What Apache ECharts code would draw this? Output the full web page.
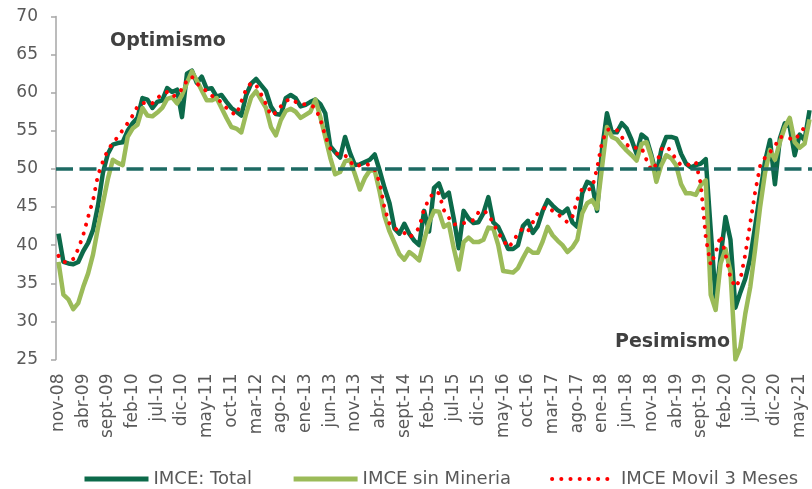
<!DOCTYPE html>
<html>
<head>
<meta charset="utf-8">
<title>IMCE</title>
<script src="https://cdn.jsdelivr.net/npm/echarts@6/dist/echarts.min.js"></script>
<style>
  html, body { margin: 0; padding: 0; background: #ffffff; }
  #chart { width: 812px; height: 489px; }
</style>
</head>
<body>
<div id="chart"></div>
<script>
// Monthly categories, Nov 2008 to Jul 2021
const monthNames = ['ene', 'feb', 'mar', 'abr', 'may', 'jun', 'jul', 'ago', 'sept', 'oct', 'nov', 'dic'];
const startYear = 2008;
const startMonth = 10; // nov
const monthCount = 153;

const categories = [];
for (let k = 0; k < monthCount; k++) {
  const m = (startMonth + k) % 12;
  const y = startYear + Math.floor((startMonth + k) / 12);
  categories.push(monthNames[m] + '-' + String(y % 100).padStart(2, '0'));
}

const yTicks = [25, 30, 35, 40, 45, 50, 55, 60, 65, 70];
const neutralLevel = 50;

// IMCE: Total
const imceTotal = [
  41.5, 37.8, 37.6, 37.5, 37.8, 39.2, 40.3, 42.0, 45.2, 49.5,
  52.0, 53.2, 53.4, 53.5, 55.0, 56.0, 56.7, 59.3, 59.1, 58.0,
  58.8, 59.0, 60.6, 60.1, 60.4, 56.8, 62.5, 62.9, 61.3, 62.1,
  60.5, 60.6, 59.5, 59.7, 58.8, 58.0, 57.5, 57.0, 59.7, 61.2,
  61.8, 61.0, 60.2, 58.2, 57.2, 57.1, 59.3, 59.7, 59.3, 58.2,
  58.4, 58.8, 59.1, 58.5, 57.3, 53.0, 52.2, 51.5, 54.2, 52.1,
  50.5, 50.6, 50.9, 51.2, 51.9, 49.8, 47.5, 45.5, 42.2, 41.5,
  42.8, 41.5, 40.6, 40.0, 44.5, 41.8, 47.5, 48.1, 46.3, 46.9,
  43.5, 39.6, 44.5, 43.5, 42.9, 43.0, 44.2, 46.3, 43.0, 42.4,
  41.0, 39.5, 39.5, 40.0, 42.5, 43.2, 41.6, 42.5, 44.5, 45.9,
  45.2, 44.6, 44.2, 44.8, 43.0, 42.4, 46.8, 48.3, 48.0, 44.5,
  52.5, 57.3, 54.8, 54.8, 56.0, 55.3, 53.8, 52.0, 54.5, 54.0,
  51.8, 49.2, 52.5, 54.2, 54.2, 54.0, 52.0, 50.7, 50.2, 50.5,
  50.7, 51.3, 42.0, 33.0, 38.5, 43.7, 40.7, 31.8, 33.8, 35.6,
  38.3, 42.5, 46.8, 51.0, 53.8, 48.0, 54.0, 56.0, 55.5, 51.8,
  54.5, 53.8, 57.7
];

// IMCE sin Minería
const imceSinMineria = [
  37.8, 33.5, 32.9, 31.6, 32.4, 34.5, 36.3, 38.8, 42.3, 45.5,
  48.7, 51.2, 50.8, 50.5, 54.2, 55.3, 55.8, 58.0, 57.0, 56.9,
  57.4, 58.0, 59.2, 59.4, 58.6, 59.7, 61.3, 62.8, 61.6, 60.3,
  59.0, 59.0, 59.3, 58.0, 56.7, 55.5, 55.3, 54.8, 57.3, 59.4,
  60.2, 59.1, 58.0, 55.5, 54.4, 56.4, 57.6, 57.9, 57.5, 56.7,
  57.1, 57.5, 59.1, 56.8, 54.2, 51.5, 49.3, 49.6, 51.0, 51.2,
  49.3, 47.3, 48.8, 49.8, 49.8, 47.0, 43.8, 41.8, 40.3, 38.8,
  38.1, 39.1, 38.6, 38.0, 40.6, 43.0, 44.5, 44.4, 42.4, 42.8,
  39.6, 36.8, 40.4, 41.0, 40.4, 40.4, 40.7, 42.3, 42.2, 40.0,
  36.6, 36.5, 36.4, 37.0, 38.3, 39.5, 39.0, 39.0, 40.5, 42.4,
  41.3, 40.6, 40.0, 39.1, 39.7, 40.7, 44.2, 45.5, 45.9, 44.8,
  50.2, 55.5, 54.2, 53.9, 53.1, 52.4, 51.8, 51.1, 53.3, 53.5,
  51.5, 48.3, 50.5, 51.8, 51.4, 50.5, 48.0, 46.8, 46.8, 46.6,
  47.9, 48.5, 33.5, 31.5, 37.6, 39.5, 36.5, 25.0, 26.6, 31.0,
  34.5, 39.5, 45.0, 49.5, 52.5, 51.2, 53.5, 55.5, 56.7, 53.5,
  52.8, 53.3, 56.5
];

// IMCE Movil 3 Meses
const imceMovil3 = [
  38.6, 37.8, 37.8, 38.2, 39.5, 41.3, 43.7, 45.9, 49.2, 51.0,
  52.5, 53.4, 54.2, 55.1, 56.0, 57.0, 58.2, 58.6, 58.8, 58.6,
  59.3, 59.8, 60.1, 59.5, 59.7, 60.5, 61.6, 62.1, 61.2, 60.7,
  60.2, 59.6, 59.3, 58.7, 58.0, 57.4, 57.1, 58.8, 60.5, 61.3,
  61.0, 59.8, 58.5, 57.0, 57.4, 58.2, 58.9, 59.2, 58.8, 58.5,
  58.5, 58.4, 58.0, 56.5, 54.3, 52.7, 52.0, 52.0, 51.8, 51.0,
  50.3, 50.5, 50.7, 50.5, 49.9, 48.2, 44.8, 42.8, 42.2, 41.9,
  41.6, 41.0, 41.5, 42.3, 44.8, 46.0, 47.0, 46.8, 44.6, 43.6,
  42.7, 42.8, 42.9, 43.0, 43.3, 44.3, 44.6, 44.0, 42.9, 41.6,
  40.7, 39.7, 40.4, 41.6, 42.2, 41.8, 43.0, 44.2, 44.8, 45.0,
  44.5, 44.1, 43.6, 43.0, 43.7, 46.0, 47.4, 47.2, 47.5, 50.1,
  53.5, 55.1, 55.3, 55.1, 54.2, 53.2, 52.7, 52.8, 52.8, 51.2,
  49.8, 50.6, 52.6, 53.0, 52.3, 51.2, 50.5, 50.5, 50.6, 50.9,
  48.0, 41.0, 37.4, 39.0, 41.3, 38.8, 35.7, 34.5, 35.5, 38.8,
  42.9, 47.0, 50.4, 51.5, 52.2, 53.0, 54.2, 54.2, 54.0, 53.8,
  54.6, 55.5, 56.0
];

const seriesNames = ['IMCE: Total', 'IMCE sin Mineria', 'IMCE Movil 3 Meses'];
const annotations = ['Optimismo', 'Pesimismo'];

const FONT = 'DejaVu Sans';
const DARK = '#0c6a4a';
const LIGHT = '#9bbb59';
const RED = '#ff0000';
const DOTS = [0.1, 9.1];

const chart = echarts.init(document.getElementById('chart'), null, { renderer: 'canvas' });

chart.setOption({
  animation: false,
  backgroundColor: '#ffffff',
  grid: { left: 56, top: 16.5, width: 757, height: 343 },
  xAxis: {
    type: 'category',
    data: categories,
    boundaryGap: true,
    axisLine: { show: false },
    axisTick: { show: false },
    splitLine: { show: false },
    axisLabel: {
      interval: 4,
      rotate: 90,
      margin: 14,
      color: '#595959',
      fontFamily: FONT,
      fontSize: 17
    }
  },
  yAxis: {
    type: 'value',
    min: yTicks[0],
    max: yTicks[yTicks.length - 1],
    interval: 5,
    axisLine: { show: true, lineStyle: { color: '#a6a6a6', width: 1.5 } },
    axisTick: { show: true, inside: false, length: 5, lineStyle: { color: '#a6a6a6', width: 1.5 } },
    splitLine: { show: false },
    axisLabel: {
      margin: 18,
      color: '#595959',
      fontFamily: FONT,
      fontSize: 17
    }
  },
  legend: {
    left: 77,
    top: 465,
    itemWidth: 64,
    itemHeight: 20,
    itemGap: 39,
    itemStyle: { opacity: 0 },
    textStyle: { color: '#595959', fontFamily: FONT, fontSize: 18 },
    data: [
      { name: seriesNames[0], lineStyle: { color: DARK, width: 5 } },
      { name: seriesNames[1], lineStyle: { color: LIGHT, width: 5 } },
      { name: seriesNames[2], lineStyle: { color: RED, width: 4, type: DOTS, cap: 'round' } }
    ]
  },
  graphic: [
    {
      type: 'text',
      left: 110,
      top: 32,
      style: { text: annotations[0], fill: '#404040', font: 'bold 19px "DejaVu Sans"' }
    },
    {
      type: 'text',
      left: 615,
      top: 333,
      style: { text: annotations[1], fill: '#404040', font: 'bold 19px "DejaVu Sans"' }
    }
  ],
  series: [
    {
      name: seriesNames[0],
      type: 'line',
      data: imceTotal,
      symbol: 'none',
      lineStyle: { color: DARK, width: 4.5, join: 'round' },
      itemStyle: { color: DARK },
      z: 2,
      markLine: {
        silent: true,
        symbol: ['none', 'none'],
        label: { show: false },
        lineStyle: { color: '#1d6a63', width: 3.5, type: [17, 6.5] },
        data: [{ yAxis: neutralLevel }]
      }
    },
    {
      name: seriesNames[1],
      type: 'line',
      data: imceSinMineria,
      symbol: 'none',
      lineStyle: { color: LIGHT, width: 4.5, join: 'round' },
      itemStyle: { color: LIGHT },
      z: 3
    },
    {
      name: seriesNames[2],
      type: 'line',
      data: imceMovil3,
      symbol: 'none',
      lineStyle: { color: RED, width: 4, type: DOTS, cap: 'round', join: 'round' },
      itemStyle: { color: RED },
      z: 4
    }
  ]
});
</script>
</body>
</html>
